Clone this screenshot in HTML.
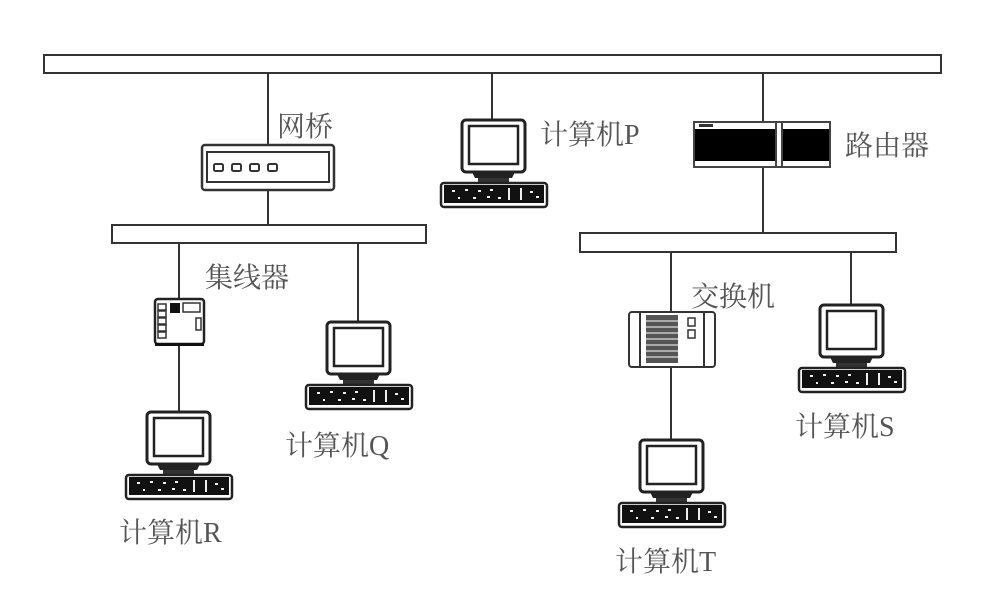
<!DOCTYPE html>
<html><head><meta charset="utf-8"><style>
html,body{margin:0;padding:0;background:#fff;}
svg{display:block}
text{font-family:"Liberation Serif","Noto Serif CJK SC","Noto Sans CJK SC",serif;font-size:28px;fill:#555;}
</style></head><body>
<svg width="1004" height="616" viewBox="0 0 1004 616" xmlns="http://www.w3.org/2000/svg">
<defs>
<g id="pc">
  <rect x="22" y="0" width="63" height="52" rx="4" fill="#fff" stroke="#222" stroke-width="3"/>
  <rect x="29" y="6" width="49" height="38" fill="#fff" stroke="#222" stroke-width="2.5"/>
  <path d="M32 52 L75 52 L72 58 L35 58 Z" fill="#222"/>
  <rect x="38" y="58" width="31" height="5" fill="#333"/>
  <rect x="1" y="63" width="106" height="24" rx="3" fill="#fff" stroke="#222" stroke-width="2.5"/>
  <rect x="4" y="65" width="100" height="18" fill="#111"/>
  <g fill="#eee">
    <rect x="12" y="70" width="3" height="2"/><rect x="25" y="69" width="3" height="2"/><rect x="38" y="70" width="3" height="2"/>
    <rect x="50" y="69" width="3" height="2"/><rect x="18" y="77" width="2" height="2"/><rect x="33" y="77" width="3" height="2"/>
    <rect x="47" y="76" width="3" height="2"/><rect x="58" y="77" width="3" height="2"/>
    <rect x="68" y="68" width="2" height="12"/><rect x="80" y="68" width="2" height="12"/>
    <rect x="90" y="71" width="3" height="2"/><rect x="96" y="76" width="3" height="2"/>
  </g>
</g>
</defs>
<g fill="#fff" stroke="#333" stroke-width="2">
  <rect x="44" y="55" width="897" height="18"/>
  <rect x="112" y="225" width="314" height="18"/>
  <rect x="580" y="233" width="316" height="19"/>
</g>
<g stroke="#333" stroke-width="2" fill="none">
  <line x1="268" y1="73" x2="268" y2="225"/>
  <line x1="492" y1="73" x2="492" y2="122"/>
  <line x1="763" y1="73" x2="763" y2="233"/>
  <line x1="179" y1="243" x2="179" y2="414"/>
  <line x1="358" y1="243" x2="358" y2="324"/>
  <line x1="671" y1="252" x2="671" y2="442"/>
  <line x1="851" y1="252" x2="851" y2="307"/>
</g>
<!-- bridge -->
<rect x="202" y="145" width="132" height="45" rx="3" fill="#fff" stroke="#333" stroke-width="2.5"/>
<rect x="207" y="152" width="122" height="30" fill="#fff" stroke="#333" stroke-width="2"/>
<g fill="#fff" stroke="#333" stroke-width="2">
  <rect x="214" y="164" width="9" height="7" rx="1.5"/><rect x="232" y="164" width="9" height="7" rx="1.5"/>
  <rect x="250" y="164" width="9" height="7" rx="1.5"/><rect x="268" y="164" width="9" height="7" rx="1.5"/>
</g>
<!-- router -->
<rect x="694" y="122" width="136" height="45" fill="#fff" stroke="#444" stroke-width="2"/>
<rect x="695" y="129" width="81" height="32" fill="#000"/>
<rect x="783" y="129" width="46" height="32" fill="#000"/>
<line x1="776" y1="122" x2="776" y2="167" stroke="#444" stroke-width="2"/>
<line x1="782" y1="122" x2="782" y2="167" stroke="#444" stroke-width="2"/>
<rect x="699" y="124" width="14" height="3" fill="#333"/>
<!-- hub -->
<rect x="155" y="299" width="49" height="45" rx="3" fill="#fff" stroke="#222" stroke-width="2.5"/>
<rect x="155" y="343" width="49" height="3" fill="#111"/>
<g fill="#fff" stroke="#333" stroke-width="1.5">
  <rect x="158" y="304" width="8" height="6"/><rect x="158" y="311" width="8" height="6"/><rect x="158" y="318" width="8" height="6"/>
  <rect x="158" y="325" width="8" height="6"/><rect x="158" y="332" width="8" height="6"/>
  <rect x="183" y="303" width="17" height="9"/><rect x="196" y="318" width="5" height="12"/>
</g>
<rect x="170" y="303" width="10" height="10" fill="#111"/>
<!-- switch -->
<rect x="629" y="312" width="86" height="55" rx="3" fill="#fff" stroke="#333" stroke-width="2"/>
<line x1="640" y1="312" x2="640" y2="367" stroke="#333" stroke-width="2"/>
<line x1="704" y1="312" x2="704" y2="367" stroke="#333" stroke-width="2"/>
<rect x="646" y="315" width="32" height="48" fill="#555"/>
<g stroke="#fff" stroke-width="1"><line x1="646" y1="321" x2="678" y2="321"/><line x1="646" y1="327" x2="678" y2="327"/><line x1="646" y1="333" x2="678" y2="333"/><line x1="646" y1="339" x2="678" y2="339"/><line x1="646" y1="345" x2="678" y2="345"/><line x1="646" y1="351" x2="678" y2="351"/><line x1="646" y1="357" x2="678" y2="357"/></g>
<rect x="688" y="318" width="7" height="8" fill="#fff" stroke="#333" stroke-width="1.5"/>
<rect x="688" y="330" width="7" height="8" fill="#fff" stroke="#333" stroke-width="1.5"/>
<!-- computers -->
<use href="#pc" x="440" y="120"/>
<use href="#pc" x="125" y="412"/>
<use href="#pc" x="305" y="322"/>
<use href="#pc" x="618" y="440"/>
<use href="#pc" x="798" y="305"/>
<!-- labels -->
<text x="277" y="136">网桥</text>
<text x="540" y="144">计算机P</text>
<text x="845" y="155">路由器</text>
<text x="205" y="287">集线器</text>
<text x="691" y="306">交换机</text>
<text x="285" y="455">计算机Q</text>
<text x="119" y="542">计算机R</text>
<text x="795" y="436">计算机S</text>
<text x="615" y="571">计算机T</text>
</svg>
</body></html>
